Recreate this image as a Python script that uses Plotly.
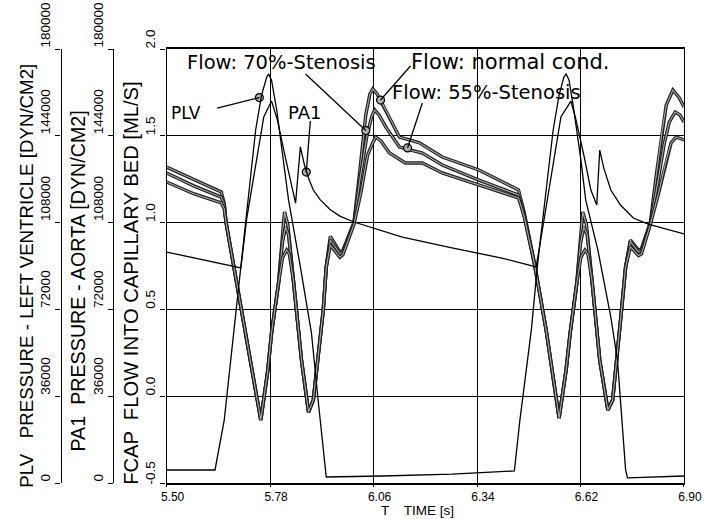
import plotly.graph_objects as go

# ---------------- data ----------------
x_ticks = [5.50, 5.78, 6.06, 6.34, 6.62, 6.90]
x_tick_labels = ["5.50", "5.78", "6.06", "6.34", "6.62", "6.90"]
flow_ticks = [-0.5, 0.0, 0.5, 1.0, 1.5, 2.0]
flow_tick_labels = ["-0.5", "0.0", "0.5", "1.0", "1.5", "2.0"]
press_ticks = [0, 36000, 72000, 108000, 144000, 180000]
press_tick_labels = ["0", "36000", "72000", "108000", "144000", "180000"]

# left ventricular pressure PLV [dyn/cm2]
plv_t = [5.500, 5.631, 5.656, 5.682, 5.701, 5.723, 5.741, 5.757, 5.771, 5.776, 5.784, 5.798,
         5.816, 5.830, 5.862, 5.892, 5.910, 5.924, 5.932, 6.085, 6.272, 6.441, 6.456, 6.487,
         6.503, 6.527, 6.546, 6.562, 6.575, 6.581, 6.589, 6.602, 6.621, 6.634, 6.667, 6.702,
         6.720, 6.742, 6.747, 6.900]
plv_p = [5400, 5400, 26100, 63500, 89600, 121500, 146400, 160900, 168400, 169600, 167100, 154700,
         134000, 117400, 89600, 62200, 34400, 13700, 2500, 2900, 3700, 5000, 26100, 63500,
         89600, 121500, 146400, 160900, 168400, 169600, 167100, 154700, 134000, 117400, 96600, 68800,
         51000, 5400, 2100, 2900]

# aortic pressure PA1 [dyn/cm2]
pa1_t = [5.500, 5.601, 5.701, 5.717, 5.744, 5.763, 5.784, 5.800, 5.820, 5.840, 5.849, 5.862,
         5.873, 5.884, 5.897, 5.916, 5.943, 5.969, 6.007, 6.138, 6.272, 6.407, 6.500, 6.522,
         6.549, 6.567, 6.594, 6.608, 6.629, 6.648, 6.664, 6.672, 6.683, 6.702, 6.728, 6.763,
         6.803, 6.900]
pa1_p = [95800, 92500, 89200, 109900, 133900, 151800, 158400, 150500, 136000, 121500, 116100, 139400,
         131900, 126500, 121500, 117400, 113300, 110700, 108250, 102000, 97500, 93300, 89600, 109900,
         134000, 151800, 158400, 150500, 136000, 121500, 115300, 138100, 130600, 121500, 115300, 109900,
         107400, 103300]

# flow into capillary bed FCAP [ml/s]
normal_t = [5.500, 5.575, 5.648, 5.656, 5.661, 5.701, 5.736, 5.755, 5.774, 5.784, 5.803, 5.812,
            5.819, 5.828, 5.843, 5.865, 5.884, 5.897, 5.924, 5.932, 5.943, 5.969, 5.977, 6.007,
            6.023, 6.039, 6.050, 6.058, 6.070, 6.093, 6.130, 6.157, 6.184, 6.246, 6.345, 6.452,
            6.460, 6.468, 6.495, 6.527, 6.549, 6.562, 6.581, 6.592, 6.610, 6.620, 6.626, 6.636,
            6.651, 6.672, 6.694, 6.707, 6.731, 6.742, 6.755, 6.777, 6.785, 6.809, 6.825, 6.841,
            6.852, 6.870, 6.887, 6.900]
normal_f = [1.320, 1.245, 1.176, 1.110, 1.000, 0.514, 0.093, -0.137, 0.151, 0.364, 0.652, 0.900,
            1.061, 0.990, 0.669, 0.209, -0.091, -0.022, 0.497, 0.744, 0.920, 0.830, 0.840, 1.000,
            1.300, 1.620, 1.740, 1.770, 1.740, 1.649, 1.493, 1.476, 1.459, 1.378, 1.303, 1.188,
            1.130, 1.055, 0.767, 0.381, 0.065, -0.126, 0.151, 0.364, 0.652, 0.900, 1.061, 0.990,
            0.669, 0.209, -0.080, -0.022, 0.497, 0.744, 0.900, 0.840, 0.850, 1.000, 1.274, 1.533,
            1.677, 1.764, 1.720, 1.666]

sten55_t = [5.500, 5.575, 5.648, 5.656, 5.661, 5.701, 5.736, 5.755, 5.774, 5.784, 5.803, 5.813,
            5.822, 5.830, 5.843, 5.865, 5.884, 5.897, 5.924, 5.932, 5.943, 5.969, 5.977, 6.007,
            6.023, 6.042, 6.055, 6.063, 6.075, 6.093, 6.130, 6.157, 6.192, 6.246, 6.345, 6.452,
            6.460, 6.468, 6.495, 6.527, 6.549, 6.562, 6.581, 6.592, 6.610, 6.620, 6.629, 6.638,
            6.651, 6.672, 6.694, 6.707, 6.731, 6.742, 6.755, 6.777, 6.785, 6.809, 6.828, 6.846,
            6.860, 6.876, 6.889, 6.900]
sten55_f = [1.286, 1.210, 1.147, 1.100, 1.000, 0.514, 0.093, -0.137, 0.151, 0.364, 0.652, 0.880,
            0.975, 0.930, 0.669, 0.209, -0.091, -0.022, 0.497, 0.744, 0.900, 0.820, 0.830, 0.998,
            1.245, 1.500, 1.610, 1.649, 1.620, 1.551, 1.435, 1.418, 1.401, 1.332, 1.245, 1.159,
            1.110, 1.040, 0.767, 0.381, 0.065, -0.126, 0.151, 0.364, 0.652, 0.880, 0.975, 0.930,
            0.669, 0.209, -0.080, -0.022, 0.497, 0.744, 0.890, 0.830, 0.840, 0.998, 1.217, 1.447,
            1.579, 1.637, 1.620, 1.579]

sten70_t = [5.500, 5.575, 5.648, 5.656, 5.661, 5.701, 5.736, 5.755, 5.774, 5.784, 5.803, 5.814,
            5.825, 5.832, 5.843, 5.865, 5.884, 5.897, 5.924, 5.932, 5.943, 5.969, 5.977, 6.007,
            6.026, 6.044, 6.058, 6.066, 6.080, 6.103, 6.146, 6.192, 6.246, 6.345, 6.452, 6.460,
            6.468, 6.495, 6.527, 6.549, 6.562, 6.581, 6.592, 6.610, 6.621, 6.632, 6.640, 6.651,
            6.672, 6.694, 6.707, 6.731, 6.742, 6.755, 6.777, 6.785, 6.809, 6.830, 6.852, 6.865,
            6.879, 6.900]
sten70_f = [1.234, 1.165, 1.113, 1.080, 1.000, 0.514, 0.093, -0.137, 0.151, 0.364, 0.652, 0.800,
            0.842, 0.820, 0.669, 0.209, -0.091, -0.022, 0.497, 0.744, 0.870, 0.800, 0.815, 0.990,
            1.176, 1.390, 1.460, 1.493, 1.470, 1.401, 1.343, 1.343, 1.286, 1.217, 1.142, 1.090,
            1.030, 0.767, 0.381, 0.065, -0.126, 0.151, 0.364, 0.652, 0.800, 0.842, 0.820, 0.669,
            0.209, -0.080, -0.022, 0.497, 0.744, 0.860, 0.810, 0.820, 0.990, 1.159, 1.361, 1.459,
            1.493, 1.476]

# in-plot labels: (text, font size, text x [s], text y [ml/s], pointer start, pointer end / marker)
labels = [
    ("PLV", 17, 5.506, 1.631, (5.637, 1.660), (5.751, 1.720)),
    ("PA1", 18, 5.822, 1.637, (5.889, 1.585), (5.878, 1.291)),
    ("Flow: 70%-Stenosis", 19.5, 5.550, 1.925, (5.876, 1.856), (6.039, 1.530)),
    ("Flow: normal cond.", 21, 6.156, 1.925, (6.160, 1.902), (6.079, 1.706)),
    ("Flow: 55%-Stenosis", 19.5, 6.104, 1.747, (6.192, 1.689), (6.152, 1.430)),
]

# ---------------- figure ----------------
AXFONT = "Liberation Sans, Arial, sans-serif"
TXTFONT = "DejaVu Sans, sans-serif"

fig = go.Figure()

for t, f in [(normal_t, normal_f), (sten55_t, sten55_f), (sten70_t, sten70_f)]:
    fig.add_trace(go.Scatter(x=t, y=f, mode="lines", yaxis="y",
                             line=dict(color="#202020", width=3.4), hoverinfo="skip"))
    fig.add_trace(go.Scatter(x=t, y=f, mode="lines", yaxis="y",
                             line=dict(color="#a8a8a8", width=1.1), hoverinfo="skip"))

fig.add_trace(go.Scatter(x=plv_t, y=plv_p, mode="lines", yaxis="y3",
                         line=dict(color="black", width=1.3)))
fig.add_trace(go.Scatter(x=pa1_t, y=pa1_p, mode="lines", yaxis="y2",
                         line=dict(color="black", width=1.3)))

shapes = []
annotations = []
mx, my = [], []
for text, fs, tx, ty, (sx, sy), (ex, ey) in labels:
    annotations.append(dict(x=tx, y=ty, xref="x", yref="y", text=text, showarrow=False,
                            xanchor="left", yanchor="middle",
                            font=dict(family=TXTFONT, size=fs, color="black")))
    shapes.append(dict(type="line", xref="x", yref="y", x0=sx, y0=sy, x1=ex, y1=ey,
                       line=dict(color="black", width=1.3)))
    mx.append(ex)
    my.append(ey)

fig.add_trace(go.Scatter(x=mx, y=my, mode="markers", yaxis="y",
                         marker=dict(symbol="circle", size=8, color="#b0b0b0",
                                     line=dict(color="black", width=1.2))))

# axis titles (rotated)
def rot_title(text, x_px, y_paper, size):
    return dict(x=x_px / 684, y=y_paper, xref="paper", yref="paper", textangle=-90,
                showarrow=False, xanchor="center", yanchor="middle", text=text,
                font=dict(family=AXFONT, size=size, color="black"))

annotations += [
    rot_title("PLV   PRESSURE - LEFT VENTRICLE [DYN/CM2]", 21, 0.477, 18.7),
    rot_title("PA1  PRESSURE - AORTA [DYN/CM2]", 73, 0.465, 19.7),
    rot_title("FCAP  FLOW INTO CAPILLARY BED [ML/S]", 126, 0.461, 20.2),
    dict(x=415 / 684, y=-0.0634, xref="paper", yref="paper", showarrow=False,
         xanchor="center", yanchor="middle", borderpad=0,
         text="T    TIME [s]", font=dict(family=AXFONT, size=13.5, color="black")),
]

NB = "\u00a0"
press_text = [s + NB * (2 * (6 - len(s))) for s in press_tick_labels]

tickfont = dict(family=AXFONT, size=13.5, color="black")
common_y = dict(tickangle=-90, showline=True, linecolor="black", linewidth=1.3,
                ticks="outside", ticklen=5, tickcolor="black", zeroline=False,
                tickfont=tickfont)

fig.update_layout(
    width=713, height=519,
    margin=dict(l=0, r=29, t=49, b=36),
    paper_bgcolor="white", plot_bgcolor="white",
    showlegend=False,
    xaxis=dict(domain=[162 / 684, 1], range=[5.5, 6.9], tickvals=x_ticks, ticktext=x_tick_labels,
               showgrid=True, gridcolor="black", gridwidth=1.2, showline=True, linecolor="black",
               linewidth=1.5, mirror=True, ticks="outside", ticklen=2, tickcolor="black",
               zeroline=False, tickfont=dict(family=AXFONT, size=12, color="black"),
               ticklabelshift=6, ticklabelstandoff=0),
    yaxis=dict(range=[-0.5, 2.0], tickvals=flow_ticks, ticktext=flow_tick_labels,
               showgrid=True, gridcolor="black", gridwidth=1.2, mirror=True,
               ticklabelshift=-8, **common_y),
    yaxis2=dict(range=[0, 180000], overlaying="y", anchor="free", position=108 / 684,
                tickvals=press_ticks, ticktext=press_text, showgrid=False,
                ticklabelshift=-22, **common_y),
    yaxis3=dict(range=[0, 180000], overlaying="y", anchor="free", position=55 / 684,
                tickvals=press_ticks, ticktext=press_text, showgrid=False,
                ticklabelshift=-22, **common_y),
    shapes=shapes,
    annotations=annotations,
)

fig.write_html("out.html", config={"displayModeBar": False},
               post_script="document.body.style.margin='0';")
